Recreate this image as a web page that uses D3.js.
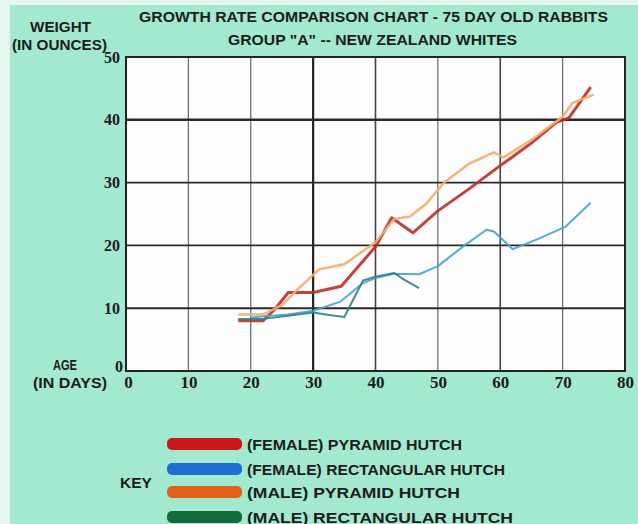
<!DOCTYPE html>
<html>
<head>
<meta charset="utf-8">
<script src="https://cdn.jsdelivr.net/npm/d3@7"></script>
<style>
  body { margin: 0; background: #a3e9cf; }
  svg text { font-family: "Liberation Sans", Arial, sans-serif; font-weight: bold; fill: #1c1c1c; }
  .tick text { font-family: "Liberation Serif", serif; }
</style>
</head>
<body>
<div id="chart"></div>
<script>
// data (age in days, weight in ounces)
const seriesNames = ["(FEMALE) PYRAMID HUTCH", "(FEMALE) RECTANGULAR HUTCH", "(MALE) PYRAMID HUTCH", "(MALE) RECTANGULAR HUTCH"];
const keyColors = ["#c8181a", "#1f6fd2", "#e2601c", "#146a3c"];
const lineColors = ["#bb2f26", "#45a0d6", "#f4ac6c", "#2e8288"];

const femalePyramid = [[18, 8], [22, 8], [24, 10], [26, 12.5], [30, 12.5], [34.5, 13.5], [40, 19.8], [42.6, 24.4], [46, 22], [50, 25.5], [55, 29], [60, 32.7], [65, 36.3], [69, 39.6], [71, 40.3], [74.5, 45.2]];
const femaleRect = [[20, 8.5], [22, 8.7], [26, 9], [30, 9.6], [34.3, 11], [38, 14], [40, 14.8], [43, 15.5], [47, 15.4], [50, 16.7], [54, 19.8], [57.8, 22.5], [59, 22.2], [62, 19.4], [66, 21], [70.5, 23], [74.5, 26.8]];
const malePyramid = [[18, 9], [22, 9], [25, 10.5], [27.5, 13], [31, 16.2], [35, 17], [40, 20.5], [43, 24.2], [45.5, 24.6], [48, 26.5], [51, 30], [55, 33], [59, 34.8], [60.5, 34], [65, 36.8], [70, 40.5], [71.6, 42.7], [75, 44]];
const maleRect = [[18, 8.3], [22, 8.3], [26, 8.8], [30, 9.3], [32, 9], [35, 8.6], [38, 14.4], [40, 15], [43, 15.6], [44.5, 14.6], [47, 13.2]];
const allSeries = [femalePyramid, femaleRect, malePyramid, maleRect];
const lineWidths = [3, 2, 2.5, 2];

const xTicks = [0, 10, 20, 30, 40, 50, 60, 70, 80];
const yTicks = [0, 10, 20, 30, 40, 50];

const width = 638, height = 524;
const margin = { top: 57, right: 13, bottom: 153, left: 126 };
const w = width - margin.left - margin.right;
const h = height - margin.top - margin.bottom;

const svg = d3.select("#chart").append("svg")
  .attr("width", width)
  .attr("height", height);

// pale scan edges
svg.append("rect").attr("x", 0).attr("y", 0).attr("width", 10).attr("height", height).attr("fill", "#e4f7ee");
svg.append("rect").attr("x", 0).attr("y", 0).attr("width", width).attr("height", 5).attr("fill", "#e4f7ee");

const x = d3.scaleLinear().domain([0, 80]).range([margin.left, margin.left + w]);
const y = d3.scaleLinear().domain([0, 50]).range([margin.top + h, margin.top]);

// plot area
svg.append("rect")
  .attr("x", x(0)).attr("y", y(50))
  .attr("width", x(80) - x(0)).attr("height", y(0) - y(50))
  .attr("fill", "#fdfdfd");

// grid
svg.append("g").selectAll("line").data(xTicks.slice(1, -1)).join("line")
  .attr("x1", d => x(d)).attr("x2", d => x(d))
  .attr("y1", y(0)).attr("y2", y(50))
  .attr("stroke", d => d === 30 ? "#222" : (d === 40 || d === 60 ? "#444" : "#666"))
  .attr("stroke-width", d => d === 30 ? 2.2 : (d === 40 || d === 60 ? 1.6 : 1.2));

svg.append("g").selectAll("line").data(yTicks.slice(1, -1)).join("line")
  .attr("x1", x(0)).attr("x2", x(80))
  .attr("y1", d => y(d)).attr("y2", d => y(d))
  .attr("stroke", "#2a2a2a")
  .attr("stroke-width", d => d === 40 ? 2.4 : 1.9);

svg.append("rect")
  .attr("x", x(0)).attr("y", y(50))
  .attr("width", x(80) - x(0)).attr("height", y(0) - y(50))
  .attr("fill", "none").attr("stroke", "#222").attr("stroke-width", 2);

// axes labels
const xAxis = svg.append("g")
  .attr("transform", `translate(0,${y(0) + 5})`)
  .call(d3.axisBottom(x).tickValues(xTicks).tickSize(0).tickPadding(0));
xAxis.select(".domain").remove();
xAxis.selectAll("text").attr("font-size", 17).attr("fill", "#1c1c1c");
xAxis.selectAll(".tick").filter(d => d === 0).select("text").attr("dx", 2);

const yAxis = svg.append("g")
  .attr("transform", `translate(${x(0) - 6},0)`)
  .call(d3.axisLeft(y).tickValues(yTicks).tickSize(0).tickPadding(0));
yAxis.select(".domain").remove();
yAxis.selectAll("text").attr("font-size", 16).attr("fill", "#1c1c1c");
yAxis.selectAll(".tick").filter(d => d === 0).select("text").attr("dx", 3).attr("dy", "0");

// lines
const line = d3.line().x(d => x(d[0])).y(d => y(d[1]));
svg.append("g").selectAll("path").data(allSeries).join("path")
  .attr("d", line)
  .attr("fill", "none")
  .attr("stroke", (d, i) => lineColors[i])
  .attr("stroke-width", (d, i) => lineWidths[i])
  .attr("stroke-linejoin", "round")
  .attr("opacity", 0.9);

// condensed text helper
function label(txt, x0, x1, baseline, size) {
  svg.append("text")
    .attr("x", x0).attr("y", baseline)
    .attr("font-size", size)
    .attr("textLength", x1 - x0)
    .attr("lengthAdjust", "spacingAndGlyphs")
    .text(txt);
}

// titles
label("GROWTH RATE COMPARISON CHART - 75 DAY OLD RABBITS", 139, 608, 22, 15);
label('GROUP "A" -- NEW ZEALAND WHITES', 228, 517, 45, 15);

label("WEIGHT", 30, 91, 32, 15);
label("(IN OUNCES)", 12, 107, 50, 15);
label("AGE", 53, 77, 370, 15);
label("(IN DAYS)", 33, 107, 388, 15);

// key
label("KEY", 120, 152, 488, 15);

const keyY = [444, 469, 492, 517];
const keyTextEnd = [462, 505, 460, 513];
const key = svg.append("g").selectAll("g").data(seriesNames).join("g")
  .attr("transform", (d, i) => `translate(167,${keyY[i]})`);
key.append("rect")
  .attr("x", 0).attr("y", -6).attr("width", 75).attr("height", 12).attr("rx", 5)
  .attr("fill", (d, i) => keyColors[i]);
key.append("text")
  .attr("x", 80).attr("y", 6)
  .attr("font-size", 15)
  .attr("textLength", (d, i) => keyTextEnd[i] - 247)
  .attr("lengthAdjust", "spacingAndGlyphs")
  .text(d => d);
</script>
</body>
</html>
